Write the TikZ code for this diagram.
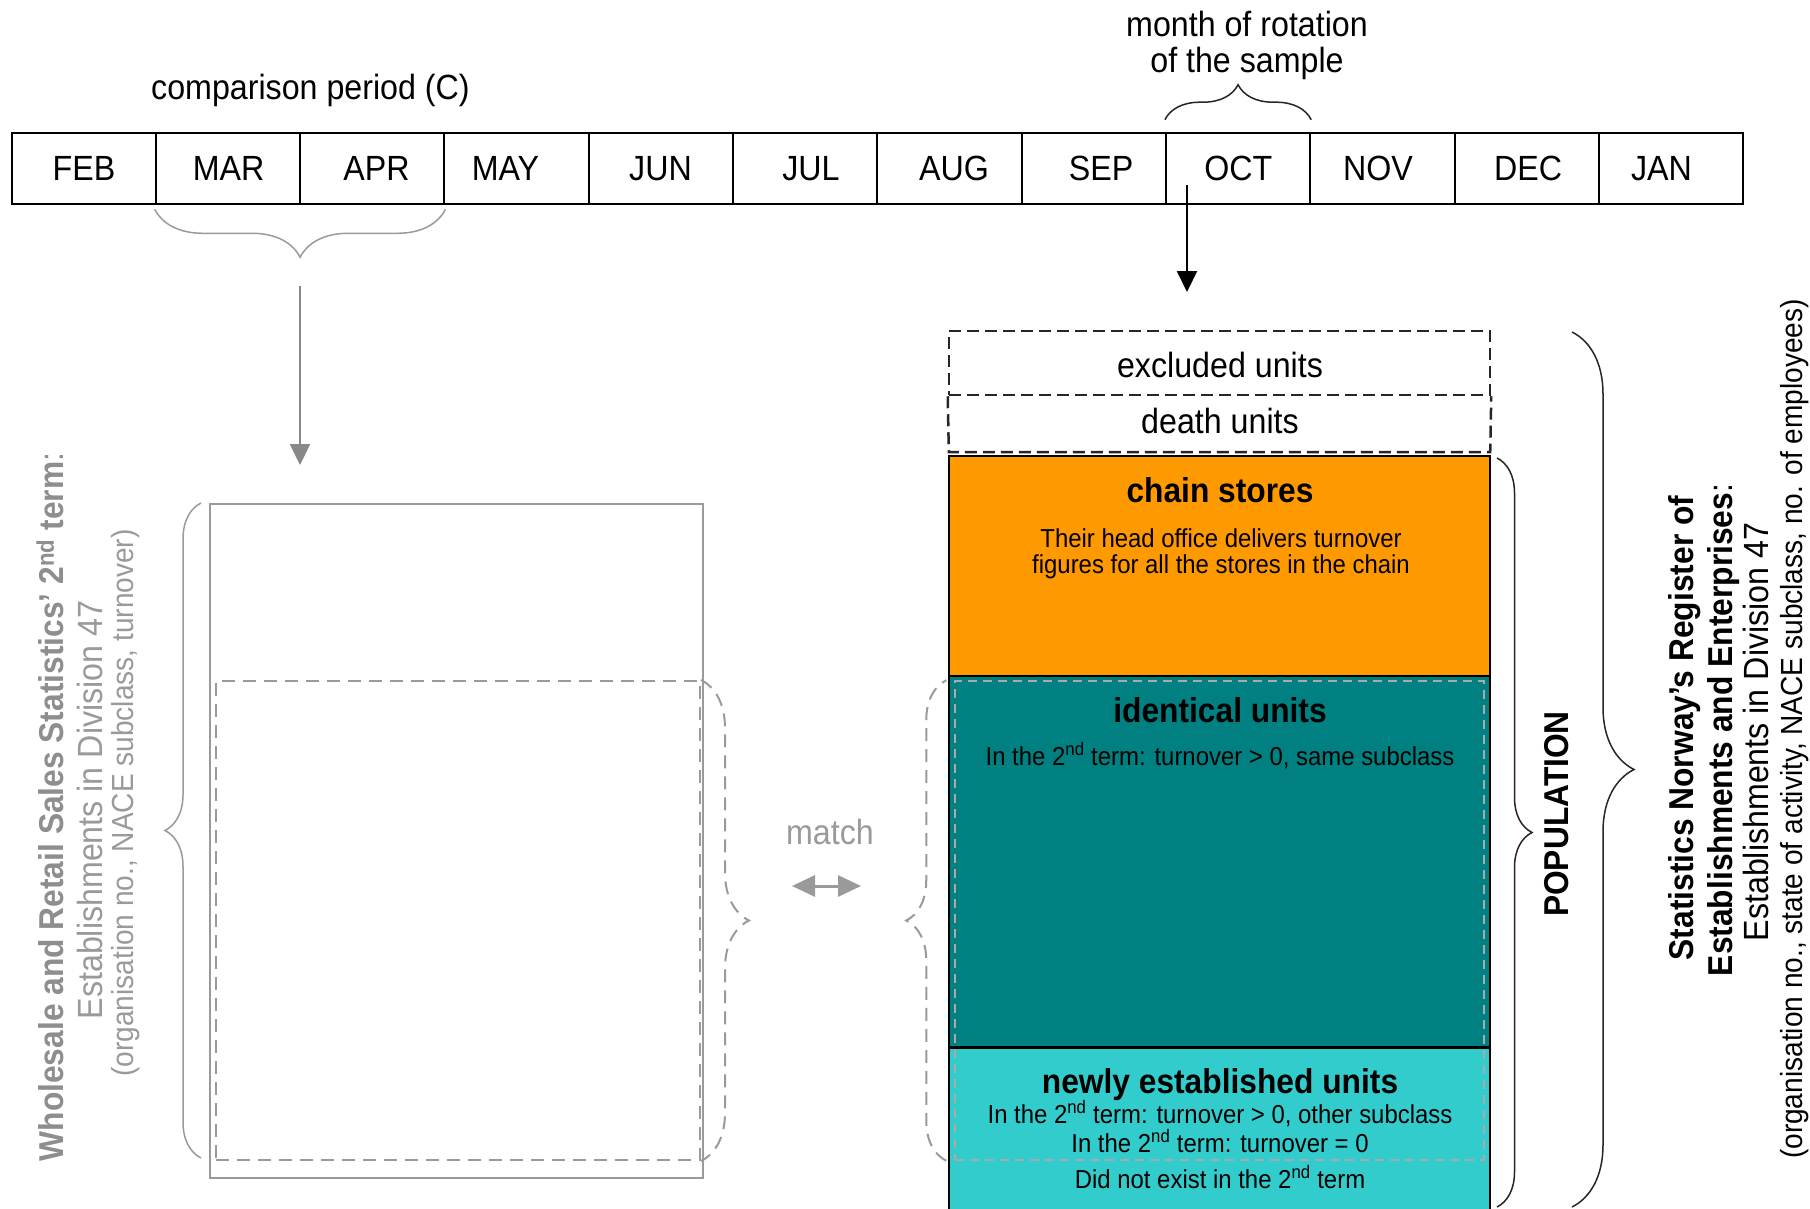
\documentclass[tikz,border=0pt]{standalone}
\usepackage{fontspec}
\setmainfont{Liberation Sans}[FakeStretch=0.92]
\usetikzlibrary{arrows.meta,decorations.pathreplacing,calc}
\definecolor{orangeC}{HTML}{FF9900}
\definecolor{tealC}{HTML}{008080}
\definecolor{cyanC}{HTML}{33CCCC}
\definecolor{greyL}{HTML}{9A9A9A}
\definecolor{greyT}{HTML}{8E8E8E}
\definecolor{greyA}{HTML}{888888}
\definecolor{greyD}{HTML}{AAAAAA}
\begin{document}
\begin{tikzpicture}[x=1pt,y=-1pt,
 cell/.style={draw=black,line width=2pt,minimum width=144.3pt,minimum height=71.6pt,inner sep=0pt},
 txt/.style={inner sep=0pt,anchor=base},
 big/.style={font=\fontsize{35}{42}\selectfont},
 bigb/.style={font=\fontsize{34.5}{41}\selectfont\bfseries},
 body/.style={font=\fontsize{26}{30}\selectfont},
 paren/.style={font=\fontsize{30.5}{36}\selectfont},
 vert/.style={rotate=90},
 colbox/.style={draw=black,line width=1.5pt,minimum width=541pt,inner sep=0pt},
 blackdash/.style={draw=black!85,line width=2.5pt,dash pattern=on 12pt off 6pt},
 brc/.style={decorate,decoration={brace,amplitude=#1}},
 tipA/.style={-{Triangle[length=21pt,width=20pt]}},
]
\useasboundingbox (0,0) rectangle (1810,1209);
\fill[white] (0,0) rectangle (1810,1209);

% ---------- timeline ----------
\foreach \m [count=\i from 0] in {FEB,MAR,APR,MAY,JUN,JUL,AUG,SEP,OCT,NOV,DEC,JAN}
  \node[cell] (\m) at ({11.5+144.3*(\i+0.5)},168.5) {};
\foreach \m/\x in {FEB/84,MAR/228.7,APR/376.5,MAY/505.5,JUN/660.5,JUL/811,AUG/954,SEP/1101,OCT/1238.3,NOV/1378,DEC/1528,JAN/1661.5}
  \node[inner sep=0pt,big] (\m T) at (\x,168.5) {\m};

\node[txt,big] (cmpT) at (310.5,100) {comparison period (C)};
\node[txt,big] (rotT1) at (1247,37) {month of rotation};
\node[txt,big] (rotT2) at (1247,73) {of the sample};

\draw[brc=35pt,line width=1.5pt,black!85] ($(OCT.north west)+(0,-12)$) -- ($(OCT.north east)+(0,-12)$);
\draw[brc=48pt,line width=1.5pt,greyL] ($(APR.south east)+(0,4)$) -- ($(MAR.south west)+(0,4)$);

\coordinate (cmpA) at (300,286);
\coordinate (cmpB) at (300,465);
\draw[greyA,line width=2pt,tipA] (cmpA) -- (cmpB);
\coordinate (octA) at (1187,185);
\coordinate (octB) at (1187,292);
\draw[black,line width=2pt,tipA] (octA) -- (octB);

% ---------- left block ----------
\node[draw=greyL,line width=1.5pt,minimum width=493pt,minimum height=674pt,inner sep=0pt] (wrsBox) at (456.5,841) {};
\node[draw=greyL,line width=2pt,dash pattern=on 13pt off 8pt,minimum width=484pt,minimum height=479pt,inner sep=0pt] (matchL) at (458,920.5) {};
\coordinate (lbA) at (201,1158);
\coordinate (lbB) at (201,503);
\draw[brc=36pt,greyL,line width=1.5pt] (lbA) -- (lbB);
\draw[brc=48pt,greyL,line width=2pt,dash pattern=on 13pt off 8pt] (matchL.north east) -- (matchL.south east);

\node[txt,bigb,vert,greyT] (wrsT1) at (63,807) {Wholesale and Retail Sales Statistics’ 2\textsuperscript{nd} term{\mdseries:}};
\node[txt,big,vert,greyL] (wrsT2) at (102,810) {Establishments in Division 47};
\node[txt,paren,vert,greyL] (wrsT3) at (133,803) {(organisation no., NACE subclass, turnover)};

% ---------- match ----------
\node[txt,big,greyL] (matchT) at (830,844) {match};
\coordinate (mA) at (792,886);
\coordinate (mB) at (861,886);
\draw[greyL,line width=3pt,{Triangle[length=23pt,width=21pt]}-{Triangle[length=23pt,width=21pt]}] (mA) -- (mB);

% ---------- right column ----------
\node[colbox,fill=orangeC,minimum height=220pt] (chain) at (1219.5,566) {};
\node[colbox,fill=tealC,minimum height=371pt] (ident) at (1219.5,861.5) {};
\node[colbox,fill=cyanC,minimum height=168pt] (newly) at (1219.5,1131) {};
\draw[line width=3pt] (ident.south west) -- (ident.south east);
\node[blackdash,minimum width=541pt,minimum height=64pt,inner sep=0pt] (excl) at (1219.5,363) {};
\node[minimum width=541pt,minimum height=57pt,inner sep=0pt] (death) at (1219.5,423.5) {};
\draw[blackdash] (excl.south west) -- (death.south west) -- (death.south east) -- (excl.south east);
\node[draw=greyD,line width=1.5pt,dash pattern=on 9pt off 6pt,minimum width=529pt,minimum height=479pt,inner sep=0pt] (matchR) at (1219.5,920.5) {};
\draw[brc=40pt,greyL,line width=2pt,dash pattern=on 13pt off 8pt] ($(matchR.south west)+(-8,0)$) -- ($(matchR.north west)+(-8,0)$);

\node[txt,big] (exclT) at (1220,377) {excluded units};
\node[txt,big] (deathT) at (1220,433) {death units};
\node[txt,bigb] (chainT) at (1220,502) {chain stores};
\node[txt,body] (chainD1) at (1221,547) {Their head office delivers turnover};
\node[txt,body] (chainD2) at (1221,573) {figures for all the stores in the chain};
\node[txt,bigb] (identT) at (1220,722) {identical units};
\node[txt,body] (identD) at (1220,765) {In the 2\textsuperscript{nd} term: turnover > 0, same subclass};
\node[txt,bigb] (newlyT) at (1220,1093) {newly established units};
\node[txt,body] (newlyD1) at (1220,1123) {In the 2\textsuperscript{nd} term: turnover > 0, other subclass};
\node[txt,body] (newlyD2) at (1220,1152) {In the 2\textsuperscript{nd} term: turnover = 0};
\node[txt,body] (newlyD3) at (1220,1188) {Did not exist in the 2\textsuperscript{nd} term};

% ---------- right braces and labels ----------
\coordinate (popA) at (1497,458);
\coordinate (popB) at (1497,1207);
\draw[brc=35pt,line width=1.5pt,black!85] (popA) -- (popB);
\node[txt,bigb,vert] (popT) at (1568,814) {POPULATION};
\coordinate (regA) at (1572,332);
\coordinate (regB) at (1572,1207);
\draw[brc=62pt,line width=1.5pt,black!85] (regA) -- (regB);

\node[txt,bigb,vert] (regT1) at (1693,728) {Statistics Norway’s Register of};
\node[txt,bigb,vert] (regT2) at (1732,730) {Establishments and Enterprises{\mdseries:}};
\node[txt,big,vert] (regT3) at (1768,732) {Establishments in Division 47};
\node[txt,paren,vert] (regT4) at (1802,729) {(organisation no., state of activity, NACE subclass, no. of employees)};
\end{tikzpicture}
\end{document}
